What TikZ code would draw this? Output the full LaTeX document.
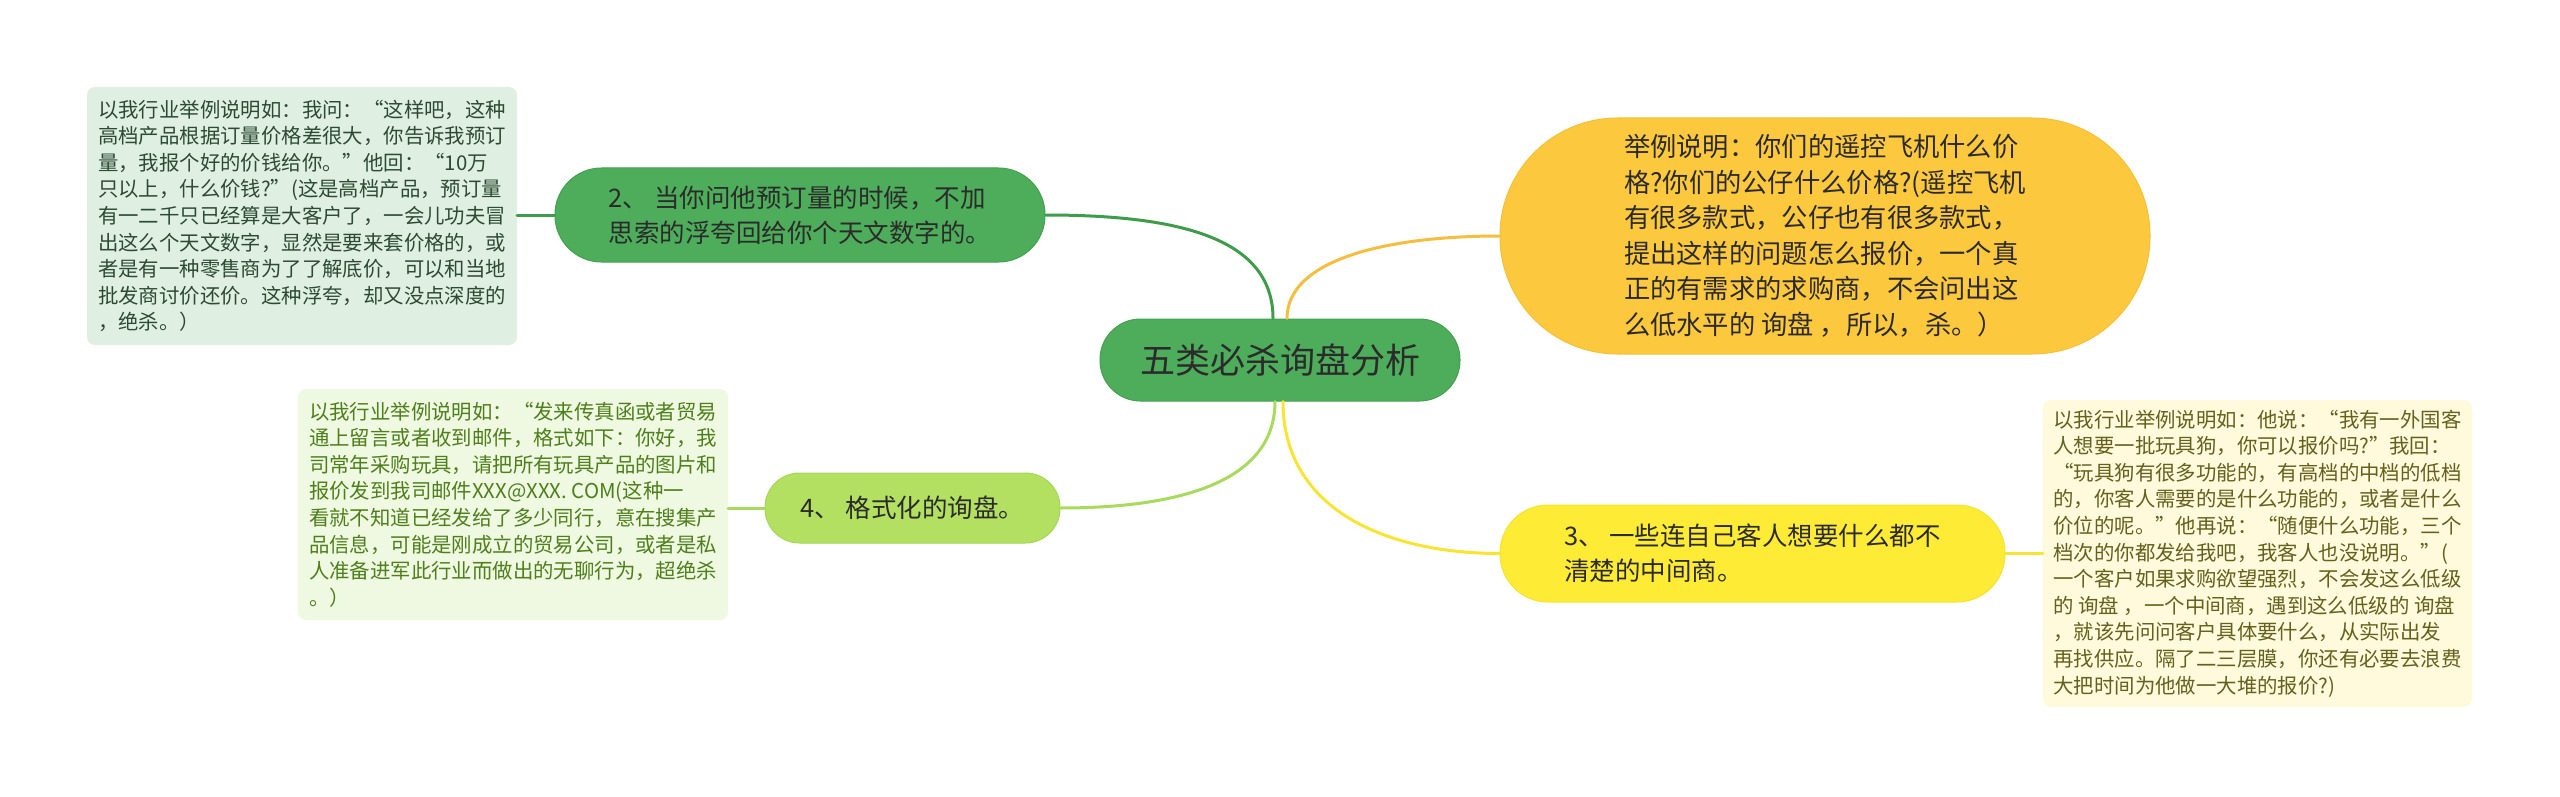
\documentclass[tikz,border=0pt]{standalone}
\usepackage{fontspec}
\setmainfont{Noto Sans CJK SC}
\usetikzlibrary{calc}
\definecolor{cMain}{HTML}{4EAD5B}
\definecolor{cMainD}{HTML}{43A04F}
\definecolor{cLime}{HTML}{B3E061}
\definecolor{cLimeD}{HTML}{A6D656}
\definecolor{cOr}{HTML}{FCC83E}
\definecolor{cOrD}{HTML}{F5C038}
\definecolor{cYe}{HTML}{FEEB35}
\definecolor{cYeD}{HTML}{F6E22E}
\definecolor{lnTwo}{HTML}{3E9C4B}
\definecolor{lnOr}{HTML}{F5BE3E}
\definecolor{lnFour}{HTML}{A8DA5C}
\definecolor{lnThree}{HTML}{F8E431}
\definecolor{fTL}{HTML}{DFF0E3}
\definecolor{fLL}{HTML}{EFF8E1}
\definecolor{fR}{HTML}{FEFADB}
\definecolor{tTL}{HTML}{2E4A32}
\definecolor{tLL}{HTML}{4F7F1C}
\definecolor{tR}{HTML}{66601E}
\definecolor{tTopic}{HTML}{2B2B2B}
\begin{document}
\begin{tikzpicture}[x=1pt,y=-1pt,
  topic/.style={align=left, inner sep=0pt, text=tTopic, line width=1pt,
    font=\fontsize{25.5pt}{35pt}\selectfont},
  notebox/.style={align=left, inner sep=0pt, rounded corners=8pt,
    font=\fontsize{20.4pt}{26.6pt}\selectfont},
  conn/.style={line width=3pt, line cap=round}]
\useasboundingbox[fill=white] (0,0) rectangle (2560,797);

% central
\node[topic, fill=cMain, draw=cMainD, minimum width=360pt, minimum height=82pt,
  rounded corners=40.5pt, font=\fontsize{35pt}{42pt}\selectfont] (c) at (1280,360) {五类必杀询盘分析};

% level 1
\node[topic, fill=cMain, draw=cMainD, minimum width=490pt, minimum height=94pt,
  rounded corners=46.5pt] (n2) at (800,215) {2、 当你问他预订量的时候，不加\\%
思索的浮夸回给你个天文数字的。};

\node[topic, fill=cLime, draw=cLimeD, minimum width=295pt, minimum height=70pt,
  rounded corners=34.5pt] (n4) at (912.5,508) {4、 格式化的询盘。};

\node[topic, fill=cOr, draw=cOrD, minimum width=650pt, minimum height=236pt,
  rounded corners=117.5pt, font=\fontsize{26.3pt}{35.5pt}\selectfont] (or) at (1825,236) {举例说明：你们的遥控飞机什么价\\%
格?你们的公仔什么价格?(遥控飞机\\%
有很多款式，公仔也有很多款式，\\%
提出这样的问题怎么报价，一个真\\%
正的有需求的求购商，不会问出这\\%
么低水平的 询盘 ，所以，杀。）};

\node[topic, fill=cYe, draw=cYeD, minimum width=505pt, minimum height=97pt,
  rounded corners=48pt] (n3) at (1752.5,553.5) {3、 一些连自己客人想要什么都不\\%
清楚的中间商。};

% notes
\node[notebox, fill=fTL, text=tTL, minimum width=430pt, minimum height=258pt] (tl) at (302,216) {以我行业举例说明如：我问：“这样吧，这种\\%
高档产品根据订量价格差很大，你告诉我预订\\%
量，我报个好的价钱给你。”他回：“10万\\%
只以上，什么价钱?”(这是高档产品，预订量\\%
有一二千只已经算是大客户了，一会儿功夫冒\\%
出这么个天文数字，显然是要来套价格的，或\\%
者是有一种零售商为了了解底价，可以和当地\\%
批发商讨价还价。这种浮夸，却又没点深度的\\%
，绝杀。）};

\node[notebox, fill=fLL, text=tLL, minimum width=430pt, minimum height=231pt] (ll) at (513,504.5) {以我行业举例说明如：“发来传真函或者贸易\\%
通上留言或者收到邮件，格式如下：你好，我\\%
司常年采购玩具，请把所有玩具产品的图片和\\%
报价发到我司邮件XXX@XXX. COM(这种一\\%
看就不知道已经发给了多少同行，意在搜集产\\%
品信息，可能是刚成立的贸易公司，或者是私\\%
人准备进军此行业而做出的无聊行为，超绝杀\\%
。）};

\node[notebox, fill=fR, text=tR, minimum width=429pt, minimum height=307pt] (rn) at (2257.5,553.5) {以我行业举例说明如：他说：“我有一外国客\\%
人想要一批玩具狗，你可以报价吗?”我回：\\%
“玩具狗有很多功能的，有高档的中档的低档\\%
的，你客人需要的是什么功能的，或者是什么\\%
价位的呢。”他再说：“随便什么功能，三个\\%
档次的你都发给我吧，我客人也没说明。”(\\%
一个客户如果求购欲望强烈，不会发这么低级\\%
的 询盘 ，一个中间商，遇到这么低级的 询盘\\%
，就该先问问客户具体要什么，从实际出发\\%
再找供应。隔了二三层膜，你还有必要去浪费\\%
大把时间为他做一大堆的报价?)};

% connectors
\draw[conn, lnTwo] ([xshift=-7pt]c.north) .. controls +(0,-80) and +(135,0) .. (n2.east);
\draw[conn, lnOr] ([xshift=7pt]c.north) .. controls +(0,-60) and +(-110,0) .. (or.west);
\draw[conn, lnFour] ([xshift=-5pt]c.south) .. controls +(0,80) and +(120,0) .. (n4.east);
\draw[conn, lnThree] ([xshift=3pt]c.south) .. controls +(0,110) and +(-110,0) .. (n3.west);

\draw[conn, lnTwo] (n2.west) -- (n2.west -| tl.east);
\draw[conn, lnFour] (n4.west) -- (n4.west -| ll.east);
\draw[conn, lnThree] (n3.east) -- (n3.east -| rn.west);
\end{tikzpicture}
\end{document}
